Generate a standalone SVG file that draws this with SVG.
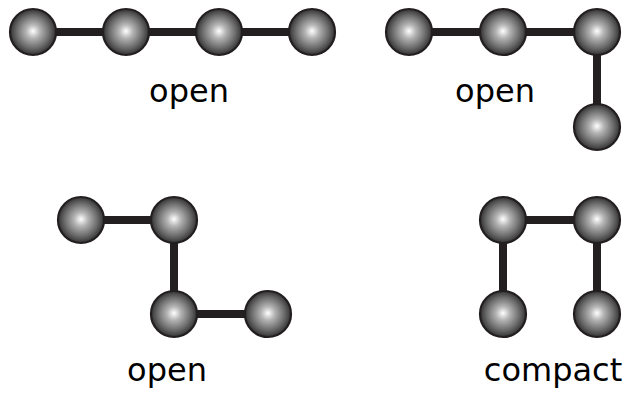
<svg xmlns="http://www.w3.org/2000/svg" width="628" height="393" viewBox="0 0 628 393">
  <style>
    .bond { stroke: #231f20; stroke-width: 8; fill: none; }
    .bead { fill: url(#sphere); stroke: #231f20; stroke-width: 2.2; }
    .label { font-family: "DejaVu Sans", "Liberation Sans", sans-serif; font-size: 32px; fill: #000; text-anchor: middle; }
  </style>
  <defs>
    <radialGradient id="sphere" cx="0.5" cy="0.5" r="0.5" fx="0.5" fy="0.48">
      <stop offset="0" stop-color="#ffffff"/>
      <stop offset="0.3" stop-color="#b4b4b4"/>
      <stop offset="0.72" stop-color="#6a6a6a"/>
      <stop offset="1" stop-color="#333333"/>
    </radialGradient>
  </defs>

  <!-- chain connectors -->
  <g id="connectors">
    <path class="bond" d="M33 32 H312"/>
    <path class="bond" d="M409 32 H597 V127"/>
    <path class="bond" d="M81 220 H174 V314 H268"/>
    <path class="bond" d="M503 314 V220 H597 V314"/>
  </g>

  <!-- straight chain -->
  <g id="chain-straight">
    <circle id="a1" class="bead" cx="33" cy="32" r="23"/>
    <circle id="a2" class="bead" cx="126" cy="32" r="23"/>
    <circle id="a3" class="bead" cx="219" cy="32" r="23"/>
    <circle id="a4" class="bead" cx="312" cy="32" r="23"/>
    <text class="label" x="189" y="102">open</text>
  </g>

  <!-- L-shaped chain -->
  <g id="chain-bent">
    <circle id="b1" class="bead" cx="409" cy="32" r="23"/>
    <circle id="b2" class="bead" cx="503" cy="32" r="23"/>
    <circle id="b3" class="bead" cx="597" cy="32" r="23"/>
    <circle id="b4" class="bead" cx="597" cy="127" r="23"/>
    <text class="label" x="495" y="102">open</text>
  </g>

  <!-- stepped chain -->
  <g id="chain-step">
    <circle id="c1" class="bead" cx="81" cy="220" r="23"/>
    <circle id="c2" class="bead" cx="174" cy="220" r="23"/>
    <circle id="c3" class="bead" cx="174" cy="314" r="23"/>
    <circle id="c4" class="bead" cx="268" cy="314" r="23"/>
    <text class="label" x="167" y="381">open</text>
  </g>

  <!-- folded chain -->
  <g id="chain-compact">
    <circle id="d1" class="bead" cx="503" cy="314" r="23"/>
    <circle id="d2" class="bead" cx="503" cy="220" r="23"/>
    <circle id="d3" class="bead" cx="597" cy="220" r="23"/>
    <circle id="d4" class="bead" cx="597" cy="314" r="23"/>
    <text class="label" x="553" y="381">compact</text>
  </g>
</svg>
